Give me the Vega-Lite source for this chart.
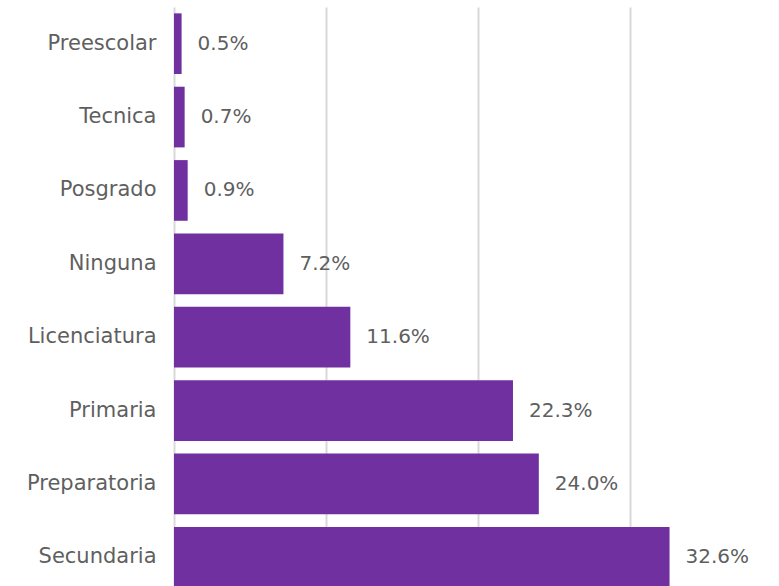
{
  "$schema": "https://vega.github.io/schema/vega-lite/v6.json",
  "autosize": "none",
  "padding": {"left": 174, "top": 7, "right": 0, "bottom": 0},
  "width": 605,
  "height": 587,
  "data": {"values": [
    {"nivel": "Preescolar", "pct": 0.005},
    {"nivel": "Tecnica\u2007", "pct": 0.007},
    {"nivel": "Posgrado", "pct": 0.009},
    {"nivel": "Ninguna", "pct": 0.072},
    {"nivel": "Licenciatura", "pct": 0.116},
    {"nivel": "Primaria", "pct": 0.223},
    {"nivel": "Preparatoria", "pct": 0.240},
    {"nivel": "Secundaria", "pct": 0.326}
  ]},
  "config": {
    "view": {"stroke": null},
    "font": "DejaVu Sans"
  },
  "encoding": {
    "y": {
      "field": "nivel", "type": "nominal", "sort": null, "title": null,
      "scale": {"paddingInner": 0.173, "paddingOuter": 0.0865},
      "axis": {"domain": false, "ticks": false, "labelFontSize": 21, "labelColor": "#5f5f5f", "labelPadding": 18, "labelFont": "DejaVu Sans"}
    },
    "x": {
      "field": "pct", "type": "quantitative", "title": null,
      "scale": {"domain": [0, 0.398], "nice": false, "zero": true},
      "axis": {"values": [0, 0.1, 0.2, 0.3], "labels": false, "ticks": false, "domain": false, "grid": true, "gridColor": "#d9d9d9", "gridWidth": 2}
    }
  },
  "layer": [
    {"mark": {"type": "bar", "color": "#7030A0"}},
    {
      "mark": {"type": "text", "align": "left", "baseline": "middle", "dx": 16, "fontSize": 20, "color": "#5f5f5f", "font": "DejaVu Sans"},
      "encoding": {"text": {"field": "pct", "type": "quantitative", "format": ".1%"}}
    }
  ]
}
